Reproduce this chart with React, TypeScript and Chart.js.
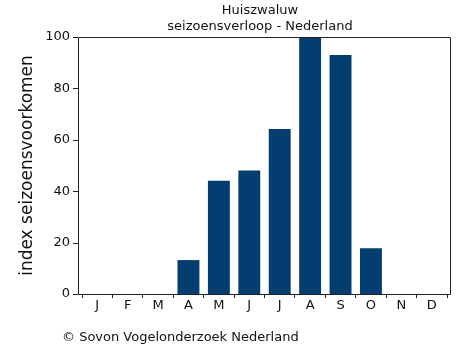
import React, { useEffect, useRef } from "react";
import { Chart, registerables } from "chart.js";

Chart.register(...registerables);

const months = ["J", "F", "M", "A", "M", "J", "J", "A", "S", "O", "N", "D"];
const indexValues = [0, 0, 0, 13.2, 44.1, 48.1, 64.2, 100, 93, 17.8, 0, 0];
const yTicks = [0, 20, 40, 60, 80, 100];
const titleLines = ["Huiszwaluw", "seizoensverloop - Nederland"];
const yAxisTitle = "index seizoensvoorkomen";
const footerText = "© Sovon Vogelonderzoek Nederland";

const FONT = "'DejaVu Sans', Verdana, sans-serif";
const BAR_COLOR = "#043e71";

export default function App() {
  const ref = useRef<HTMLCanvasElement | null>(null);

  useEffect(() => {
    const canvas = ref.current;
    if (!canvas) return;

    const decor = {
      id: "decor",
      afterDraw(chart: any) {
        const ctx = chart.ctx;
        const y = chart.scales.y;
        const area = chart.chartArea;
        const left = area.left - 4;
        const right = area.right + 3;
        const top = area.top;
        const bottom = area.bottom;
        ctx.save();
        ctx.strokeStyle = "#222";
        ctx.lineWidth = 1;
        ctx.beginPath();
        ctx.rect(left + 0.5, top + 0.5, right - left, bottom - top);
        ctx.stroke();
        // y tick marks
        ctx.beginPath();
        for (const t of yTicks) {
          const py = Math.round(y.getPixelForValue(t)) + 0.5;
          ctx.moveTo(left - 5, py);
          ctx.lineTo(left, py);
        }
        ctx.stroke();
        ctx.fillStyle = "#111";
        ctx.textAlign = "center";
        ctx.textBaseline = "middle";
        ctx.font = `13px ${FONT}`;
        ctx.fillText(titleLines[0], 260, 11);
        ctx.fillText(titleLines[1], 260, 27);
        ctx.save();
        ctx.translate(28, (top + bottom) / 2);
        ctx.rotate(-Math.PI / 2);
        ctx.font = `17px ${FONT}`;
        ctx.fillText(yAxisTitle, 0, 0);
        ctx.restore();
        ctx.textAlign = "left";
        ctx.font = `13px ${FONT}`;
        ctx.fillText(footerText, 62, 338);
        ctx.restore();
      },
    };

    const chart = new Chart(canvas, {
      type: "bar",
      data: {
        labels: months,
        datasets: [
          {
            data: indexValues,
            backgroundColor: BAR_COLOR,
            borderWidth: 0,
            barPercentage: 0.72,
            categoryPercentage: 1,
          },
        ],
      },
      options: {
        animation: false,
        responsive: false,
        devicePixelRatio: 1,
        layout: { padding: { left: 0, right: 23, top: 37, bottom: 0 } },
        plugins: {
          legend: { display: false },
          tooltip: { enabled: false },
          title: { display: false },
        },
        scales: {
          x: {
            grid: {
              display: true,
              drawOnChartArea: false,
              drawTicks: true,
              tickLength: 4,
              color: "#222",
              offset: true,
            },
            border: { display: false },
            ticks: {
              color: "#111",
              font: { family: FONT, size: 13 },
              padding: 0,
              maxRotation: 0,
              autoSkip: false,
            },
            afterFit: (s: any) => {
              s.height = 61;
            },
          },
          y: {
            min: 0,
            max: 100,
            afterBuildTicks: (s: any) => {
              s.ticks = yTicks.map((v) => ({ value: v }));
            },
            grid: { display: false, drawTicks: false },
            border: { display: false },
            ticks: {
              color: "#111",
              font: { family: FONT, size: 13 },
              padding: 12,
            },
            afterFit: (s: any) => {
              s.width = 82;
            },
          },
        },
      },
      plugins: [decor],
    });

    return () => chart.destroy();
  }, []);

  return (
    <div style={{ position: "fixed", left: 0, top: 0, width: 470, height: 355, background: "#fff" }}>
      <canvas ref={ref} width={470} height={355} />
    </div>
  );
}
